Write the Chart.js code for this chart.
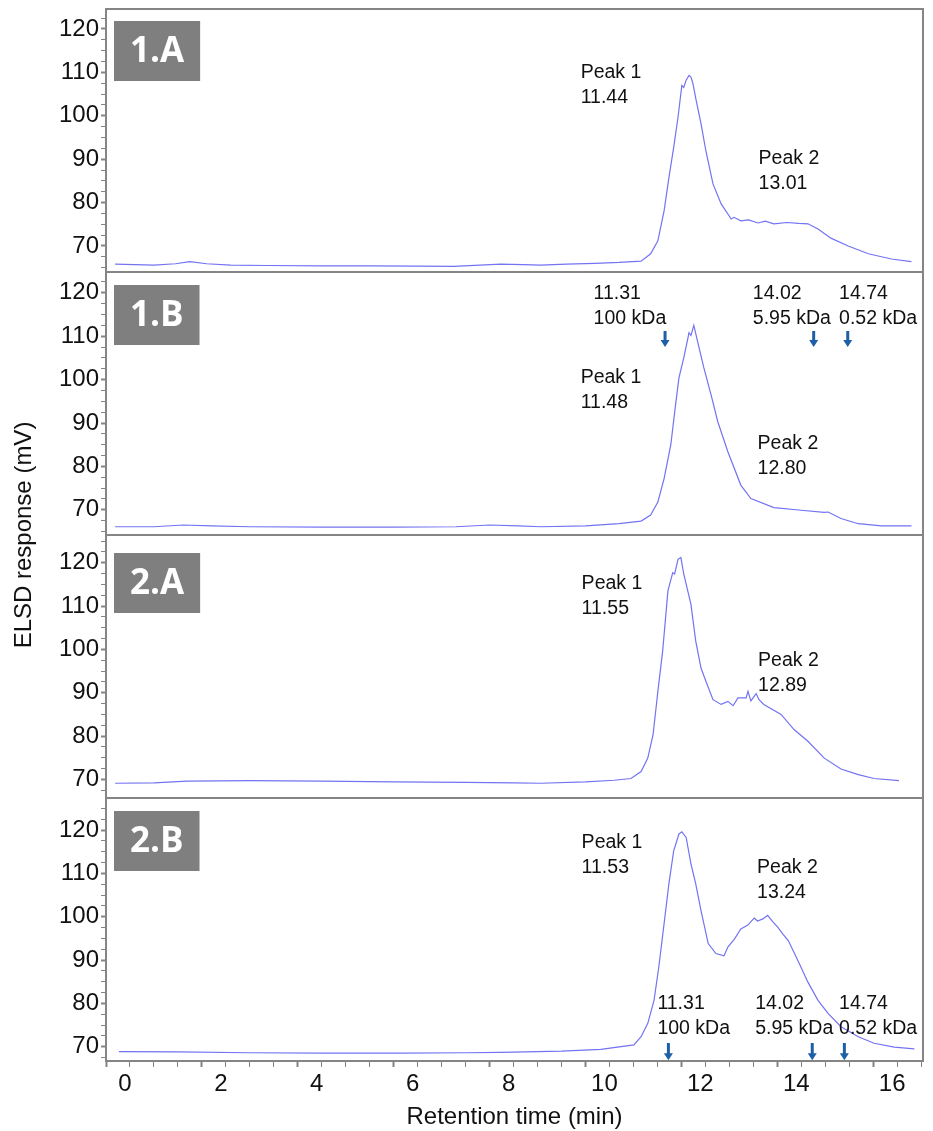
<!DOCTYPE html>
<html lang="en">
<head>
<meta charset="UTF-8">
<title>ELSD chromatograms</title>
<script src="https://cdn.jsdelivr.net/npm/chart.js"></script>
<style>
    body { margin: 0; background: #fff; }
    canvas { display: block; }
</style>
</head>
<body>
<canvas id="grafico" width="933" height="1131"></canvas>
<script>
// retention time (min) and ELSD response (mV)
const time1A = [0.19, 1.0, 1.45, 1.75, 2.1, 2.6, 3.36, 4.5, 5.5, 6.5, 7.25, 7.8, 8.23, 8.7, 9.07, 9.6, 10.2, 10.7, 11.16, 11.36, 11.51, 11.64, 11.74, 11.84, 11.93, 12.01, 12.05, 12.1, 12.16, 12.2, 12.24, 12.31, 12.41, 12.51, 12.66, 12.83, 13.04, 13.1, 13.24, 13.4, 13.6, 13.75, 13.93, 14.2, 14.45, 14.64, 14.85, 15.12, 15.48, 15.9, 16.38, 16.8];
const resp1A = [65.8, 65.6, 65.9, 66.4, 65.9, 65.6, 65.5, 65.4, 65.4, 65.35, 65.3, 65.6, 65.8, 65.7, 65.6, 65.8, 66.0, 66.2, 66.5, 68.2, 71.2, 78.1, 85.7, 92.7, 99.6, 107.0, 106.5, 108.2, 109.3, 108.9, 107.5, 103.5, 98.2, 92.0, 84.3, 79.7, 76.2, 76.6, 75.8, 76.0, 75.3, 75.7, 75.1, 75.4, 75.2, 75.1, 73.9, 71.8, 70.0, 68.2, 67.0, 66.4];

const time1B = [0.19, 1.0, 1.61, 2.2, 3.0, 4.5, 6.0, 7.3, 8.0, 8.6, 9.07, 10.0, 10.7, 11.16, 11.36, 11.51, 11.64, 11.78, 11.88, 11.95, 12.05, 12.16, 12.2, 12.26, 12.37, 12.47, 12.62, 12.76, 12.97, 13.24, 13.45, 13.93, 14.5, 14.98, 15.06, 15.33, 15.69, 16.17, 16.8];
const resp1B = [66.1, 66.1, 66.5, 66.3, 66.1, 66.0, 66.0, 66.1, 66.5, 66.3, 66.1, 66.3, 66.8, 67.4, 68.8, 71.8, 77.2, 85.0, 94.3, 100.4, 105.0, 110.8, 110.2, 112.5, 107.3, 102.7, 96.5, 90.3, 83.4, 75.7, 72.6, 70.5, 69.9, 69.4, 69.5, 68.0, 66.8, 66.3, 66.3];

const time2A = [0.19, 1.0, 1.69, 3.0, 4.5, 6.0, 7.5, 8.5, 9.07, 10.0, 10.6, 10.95, 11.16, 11.3, 11.41, 11.51, 11.61, 11.72, 11.82, 11.86, 11.93, 11.99, 12.05, 12.2, 12.3, 12.41, 12.51, 12.66, 12.83, 12.97, 13.08, 13.18, 13.35, 13.39, 13.45, 13.56, 13.62, 13.72, 14.08, 14.35, 14.64, 14.98, 15.33, 15.69, 16.02, 16.54];
const resp2A = [69.1, 69.2, 69.6, 69.7, 69.6, 69.4, 69.3, 69.2, 69.1, 69.4, 69.8, 70.2, 71.8, 74.9, 80.3, 90.3, 99.6, 113.5, 117.7, 117.4, 120.8, 121.2, 117.4, 110.4, 101.9, 95.7, 92.7, 88.4, 87.3, 88.0, 87.0, 88.8, 88.8, 90.3, 88.1, 89.8, 88.4, 87.3, 85.0, 81.5, 78.8, 74.9, 72.4, 71.1, 70.2, 69.7];

const time2B = [0.27, 1.5, 3.0, 4.5, 6.14, 7.5, 8.23, 9.5, 10.32, 11.01, 11.16, 11.3, 11.43, 11.53, 11.64, 11.74, 11.84, 11.95, 12.01, 12.1, 12.2, 12.3, 12.41, 12.56, 12.72, 12.89, 12.97, 13.11, 13.24, 13.38, 13.52, 13.59, 13.7, 13.8, 13.91, 14.01, 14.11, 14.23, 14.43, 14.64, 14.85, 15.06, 15.33, 15.69, 16.02, 16.44, 16.86];
const resp2B = [68.85, 68.8, 68.6, 68.5, 68.5, 68.6, 68.7, 69.0, 69.4, 70.4, 72.3, 75.4, 80.7, 88.4, 98.4, 107.6, 115.2, 119.1, 119.6, 118.3, 112.2, 107.6, 101.4, 93.8, 91.5, 91.0, 93.0, 94.9, 97.2, 98.0, 99.7, 99.0, 99.5, 100.3, 98.8, 97.6, 96.1, 94.5, 89.9, 84.9, 80.7, 77.7, 74.6, 72.3, 70.8, 69.9, 69.5];

const panelNames = ['1.A', '1.B', '2.A', '2.B'];
const panelTimes = [time1A, time1B, time2A, time2B];
const panelResp = [resp1A, resp1B, resp2A, resp2B];
// y range of each panel (mV)
const yMin = [64.0, 64.2, 65.7, 66.7];
const yMax = [124.6, 124.8, 126.4, 127.4];
const xMax = 17.04;

// peak notes: panel, x (min), y (mV), text
const peakNotes = [
    [0, 9.90, 110.0, ['Peak 1', '11.44']],
    [0, 13.61, 90.1, ['Peak 2', '13.01']],
    [1, 9.90, 100.5, ['Peak 1', '11.48']],
    [1, 13.59, 85.3, ['Peak 2', '12.80']],
    [2, 9.92, 115.1, ['Peak 1', '11.55']],
    [2, 13.60, 97.3, ['Peak 2', '12.89']],
    [3, 9.92, 117.1, ['Peak 1', '11.53']],
    [3, 13.58, 111.3, ['Peak 2', '13.24']]
];

// molecular weight standards
const stdTimes = ['11.31', '14.02', '14.74'];
const stdMasses = ['100 kDa', '5.95 kDa', '0.52 kDa'];
const stdLabelX1B = [10.17, 13.49, 15.29], stdLabelY1B = 119.9;
const stdArrowX1B = [11.66, 14.76, 15.47], stdArrowY1B = [111.2, 107.5];
const stdLabelX2B = [11.50, 13.54, 15.29], stdLabelY2B = 80.0;
const stdArrowX2B = [11.73, 14.73, 15.40], stdArrowY2B = [70.85, 66.9];

const FONT = '"Liberation Sans", Arial, sans-serif';
const GRAY = '#858585';
const boxOffsets = [12, 13, 18, 13];

Chart.defaults.font.family = FONT;
Chart.defaults.color = '#111';

function drawArrow(ctx, px, top, bottom) {
    ctx.beginPath();
    ctx.moveTo(px, top);
    ctx.lineTo(px, bottom - 6);
    ctx.lineWidth = 3;
    ctx.stroke();
    ctx.beginPath();
    ctx.moveTo(px - 4.5, bottom - 7);
    ctx.lineTo(px + 4.5, bottom - 7);
    ctx.lineTo(px, bottom);
    ctx.closePath();
    ctx.fill();
}

const notesPlugin = {
    id: 'notes',
    afterDatasetsDraw(chart) {
        const { ctx, chartArea, scales } = chart;
        const x = scales.x;
        ctx.save();

        // frames and panel labels
        panelNames.forEach((name, i) => {
            const s = scales['y' + i];
            ctx.strokeStyle = GRAY;
            ctx.lineWidth = 2;
            ctx.strokeRect(chartArea.left, s.top, chartArea.right - chartArea.left, s.bottom - s.top);

            ctx.font = 'bold 35px "Open Sans", sans-serif';
            const w = ctx.measureText(name).width + 32;
            const top = s.top + boxOffsets[i];
            ctx.fillStyle = '#7f7f7f';
            ctx.fillRect(chartArea.left + 8, top, w, 60);
            ctx.fillStyle = '#fff';
            ctx.textAlign = 'center';
            ctx.textBaseline = 'middle';
            ctx.fillText(name, chartArea.left + 8 + w / 2, top + 31);
        });

        // peak notes
        ctx.font = '19.5px ' + FONT;
        ctx.fillStyle = '#111';
        ctx.textAlign = 'left';
        ctx.textBaseline = 'middle';
        peakNotes.forEach(([p, xv, yv, lines]) => {
            const px = x.getPixelForValue(xv);
            const py = scales['y' + p].getPixelForValue(yv);
            lines.forEach((t, k) => ctx.fillText(t, px, py + k * 25));
        });

        // standards
        const stds = [
            [scales.y1, stdLabelX1B, stdLabelY1B, stdArrowX1B, stdArrowY1B],
            [scales.y3, stdLabelX2B, stdLabelY2B, stdArrowX2B, stdArrowY2B]
        ];
        stds.forEach(([s, lx, ly, ax, ay]) => {
            stdTimes.forEach((t, k) => {
                ctx.fillStyle = '#111';
                const px = x.getPixelForValue(lx[k]);
                const py = s.getPixelForValue(ly);
                ctx.fillText(t, px, py);
                ctx.fillText(stdMasses[k], px, py + 25);
                ctx.fillStyle = '#1f5fa6';
                ctx.strokeStyle = '#1f5fa6';
                drawArrow(ctx, x.getPixelForValue(ax[k]), s.getPixelForValue(ay[0]), s.getPixelForValue(ay[1]));
            });
        });

        // y axis title
        ctx.fillStyle = '#111';
        ctx.font = '24px ' + FONT;
        ctx.textAlign = 'center';
        ctx.translate(24, (chartArea.top + chartArea.bottom) / 2);
        ctx.rotate(-Math.PI / 2);
        ctx.fillText('ELSD response (mV)', 0, 0);
        ctx.restore();
    }
};

const scales = {
    x: {
        type: 'linear',
        min: 0,
        max: xMax,
        border: { color: GRAY, width: 2 },
        grid: { drawOnChartArea: false, tickLength: 6, color: GRAY,
                tickWidth: c => (c.tick && c.tick.value % 2 === 0 ? 2 : 1) },
        ticks: {
            stepSize: 0.5, includeBounds: false, autoSkip: false,
            maxRotation: 0, minRotation: 0, labelOffset: 19,
            font: { size: 24 }, color: '#111',
            callback: v => (v % 2 === 0 ? String(v) : '')
        },
        title: { display: true, text: 'Retention time (min)', font: { size: 24, lineHeight: 1.1 },
                 padding: { top: 0, bottom: 0 }, color: '#111' },
        afterFit: s => { s.height = 70; s.paddingLeft = 0; s.paddingRight = 0; }
    }
};
// stacked axes are placed bottom-up in the order they are defined, so add the last panel first
for (let i = panelNames.length - 1; i >= 0; i--) {
    scales['y' + i] = {
        type: 'linear',
        position: 'left',
        stack: 'panels',
        stackWeight: 1,
        min: yMin[i],
        max: yMax[i],
        border: { color: GRAY, width: 2 },
        grid: { drawOnChartArea: false, tickLength: 5, color: GRAY,
                tickWidth: c => (c.tick && c.tick.value % 10 === 0 ? 2 : 1) },
        ticks: {
            stepSize: 2.5, includeBounds: false, autoSkip: false, padding: 2,
            font: { size: 24 }, color: '#111',
            callback: v => (v % 10 === 0 ? String(v) : '')
        },
        afterFit: s => { s.width = 60; s.paddingTop = 0; s.paddingBottom = 0; }
    };
}

const ctx = document.getElementById('grafico').getContext('2d');
new Chart(ctx, {
    type: 'line',
    data: {
        datasets: panelNames.map((n, i) => ({
            label: n,
            data: panelTimes[i].map((t, k) => ({ x: t, y: panelResp[i][k] })),
            yAxisID: 'y' + i,
            borderColor: '#7373f3',
            borderWidth: 1.2,
            pointRadius: 0,
            tension: 0
        }))
    },
    options: {
        responsive: false,
        animation: false,
        layout: { padding: { left: 46, right: 10, top: 9, bottom: 0 } },
        plugins: { legend: { display: false }, tooltip: { enabled: false } },
        scales: scales
    },
    plugins: [notesPlugin]
});
</script>
</body>
</html>
